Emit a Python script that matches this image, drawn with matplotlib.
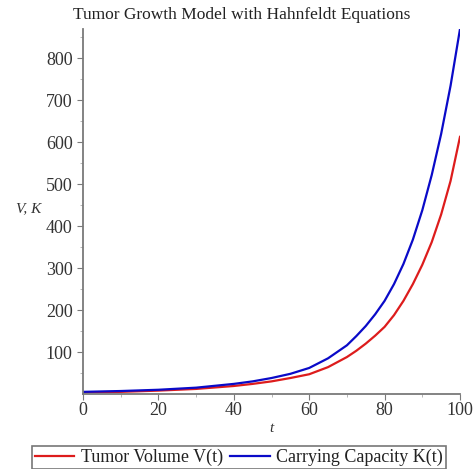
import matplotlib
matplotlib.use("Agg")
import matplotlib.pyplot as plt
import numpy as np

# values
t = [0, 10, 20, 30, 40, 45, 50, 55, 60, 65, 70, 72.5, 75, 77.5, 80,
     82.5, 85, 87.5, 90, 92.5, 95, 97.5, 100]
tumor_volume = [4, 5, 8, 12, 19, 24, 30, 38, 47, 64, 88, 103, 120, 139, 160,
                188, 222, 262, 308, 362, 428, 508, 613]
carrying_capacity = [5, 7, 10, 15, 24, 30, 38, 48, 62, 85, 116, 138, 162, 190, 222,
                     262, 310, 368, 438, 522, 620, 735, 870]

xticks = [0, 20, 40, 60, 80, 100]
yticks = [100, 200, 300, 400, 500, 600, 700, 800]

plt.rcParams['font.family'] = ['Liberation Serif', 'DejaVu Serif']

fig = plt.figure(figsize=(4.73, 4.69), dpi=100)
ax = fig.add_axes([0.1755, 0.160, 0.797, 0.778])

ax.plot(t, tumor_volume, color='#dd1c1c', lw=1.6, label='Tumor Volume V(t)')
ax.plot(t, carrying_capacity, color='#0a0ac8', lw=1.6, label='Carrying Capacity K(t)')

ax.set_xlim(0, 100)
ax.set_ylim(0, 870)
ax.set_xticks(xticks)
ax.set_yticks(yticks)
ax.set_xticks(np.arange(10, 100, 20), minor=True)
ax.set_yticks(np.arange(50, 870, 100), minor=True)

for s in ['top', 'right']:
    ax.spines[s].set_visible(False)
for s in ['left', 'bottom']:
    ax.spines[s].set_color('#7a7a7a')
    ax.spines[s].set_linewidth(1.3)

ax.tick_params(axis='both', which='major', colors='#7a7a7a', labelcolor='#333333',
               labelsize=13, length=4, width=0.8)
ax.tick_params(axis='both', which='minor', colors='#aaaaaa', length=2.5, width=0.6)
ax.tick_params(axis='x', pad=2)

ax.set_xlabel('t', fontstyle='italic', fontsize=11, color='#333333', labelpad=2)
ax.set_ylabel('V, K', fontstyle='italic', fontsize=11, color='#333333',
              rotation=0, labelpad=0)
ax.yaxis.set_label_coords(-0.145, 0.49)

fig.suptitle('Tumor Growth Model with Hahnfeldt Equations', fontsize=12.5,
             color='#222222', x=0.51, y=0.985)

leg = fig.legend(loc='lower center', bbox_to_anchor=(0.505, 0.0), ncol=2,
                 fontsize=13, frameon=True, fancybox=False, edgecolor='#555555',
                 handlelength=2.2, handletextpad=0.35, columnspacing=0.4,
                 borderpad=0.15, borderaxespad=0.0)
leg.get_frame().set_linewidth(1.2)
for txt in leg.get_texts():
    txt.set_color('#222222')

fig.savefig('out.png', dpi=100)
